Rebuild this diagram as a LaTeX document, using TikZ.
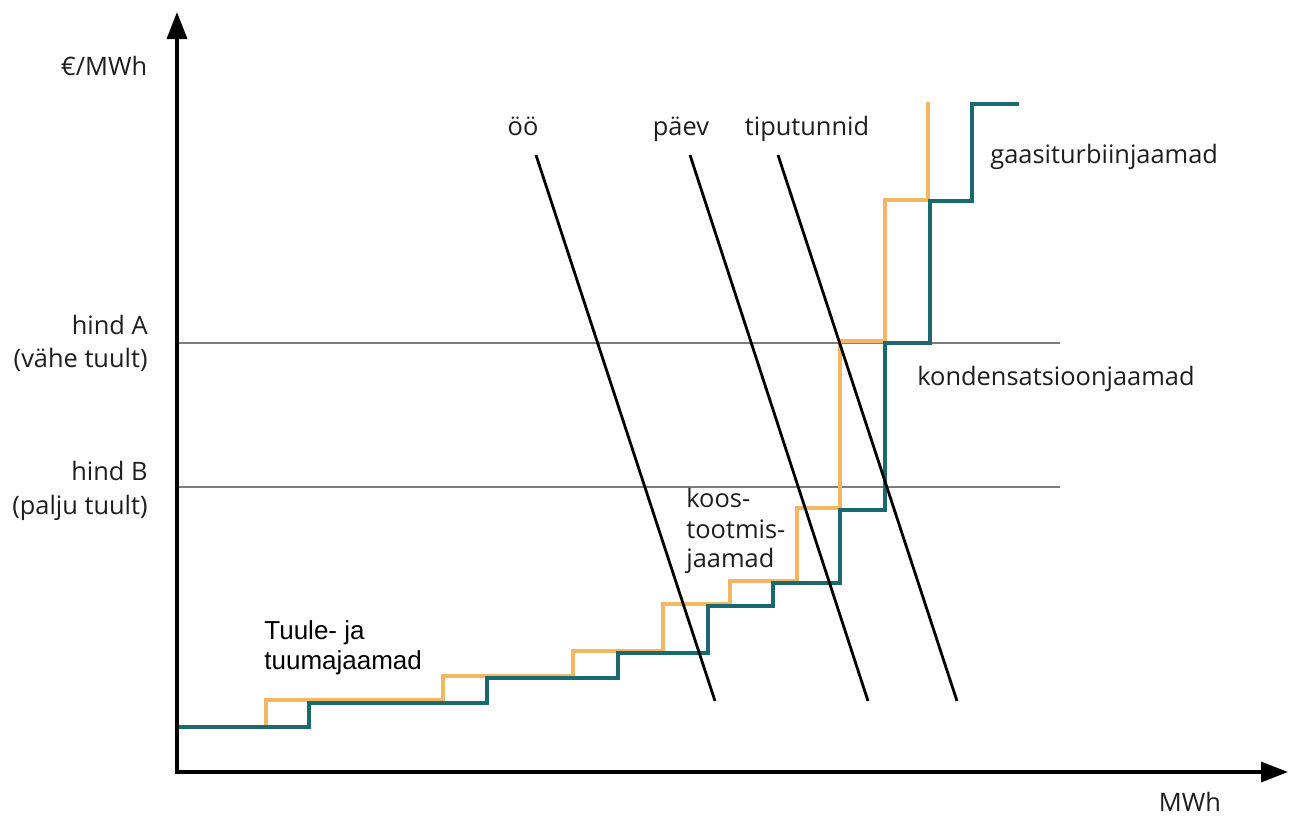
\documentclass[tikz,border=0pt]{standalone}
\usepackage{fontspec}
\setmainfont{Open Sans}
\newfontfamily\arialf{Liberation Sans}
\usetikzlibrary{arrows.meta}
\definecolor{stepor}{RGB}{243,183,98}
\definecolor{stepteal}{RGB}{27,104,112}
\definecolor{txtgray}{RGB}{30,30,30}
\begin{document}
\begin{tikzpicture}[x=0.5pt,y=-0.5pt,
  axisline/.style={line width=1.7pt,-{Triangle[length=13.5pt,width=10pt]}},
  priceline/.style={line width=1.1pt,draw={rgb,255:red,125;green,125;blue,125}},
  demand/.style={line width=1.4pt,black},
  orstep/.style={line width=1.9pt,stepor},
  tealstep/.style={line width=1.9pt,stepteal},
  lbl/.style={inner sep=0pt,text=txtgray,font=\fontsize{12.7}{15}\selectfont},
  albl/.style={inner sep=0pt,text=black,font=\arialf\fontsize{13}{15}\selectfont}]
\useasboundingbox (0,0) rectangle (1296,825);
\fill[white] (0,0) rectangle (1296,825);
% price lines
\coordinate (pa1) at (177,343); \coordinate (pa2) at (1060,343);
\coordinate (pb1) at (177,487); \coordinate (pb2) at (1060,487);
\draw[priceline] (pa1) -- (pa2);
\draw[priceline] (pb1) -- (pb2);
% supply steps
\draw[orstep] (266,727) -- (266,700) -- (443,700) -- (443,676) -- (573,676) -- (573,651) -- (663,651) -- (663,604) -- (730,604) -- (730,581) -- (797,581) -- (797,508) -- (840,508) -- (840,341) -- (885,341) -- (885,200) -- (928,200) -- (928,102);
\draw[tealstep] (177,727) -- (309,727) -- (309,703) -- (487,703) -- (487,678) -- (618,678) -- (618,653) -- (708,653) -- (708,606) -- (773,606) -- (773,583) -- (840,583) -- (840,510) -- (885,510) -- (885,343) -- (930,343) -- (930,201) -- (972,201) -- (972,104) -- (1019,104);
% demand lines
\coordinate (d1a) at (536,155); \coordinate (d1b) at (715,701);
\coordinate (d2a) at (690,155); \coordinate (d2b) at (868,701);
\coordinate (d3a) at (778,155); \coordinate (d3b) at (957,701);
\draw[demand] (d1a) -- (d1b);
\draw[demand] (d2a) -- (d2b);
\draw[demand] (d3a) -- (d3b);
% axes
\coordinate (O) at (177,772);
\coordinate (ytip) at (177,12);
\coordinate (xtip) at (1288,772);
\draw[axisline] (O) -- (ytip);
\draw[axisline] ([xshift=-0.85pt]O) -- (xtip);
% labels
\node[lbl,anchor=mid] (yl) at (104,70) {€/MWh};
\node[lbl,anchor=mid] (xl) at (1190,806) {MWh};
\node[lbl,anchor=mid east] (hA) at (148,329) {hind A};
\node[lbl,anchor=mid east] (hA2) at (148,362) {(vähe tuult)};
\node[lbl,anchor=mid east] (hB) at (148,475) {hind B};
\node[lbl,anchor=mid east] (hB2) at (148,509) {(palju tuult)};
\node[lbl,anchor=mid] (oo) at (523,130) {öö};
\node[lbl,anchor=mid] (pv) at (681,130) {päev};
\node[lbl,anchor=mid] (tp) at (807,130) {tiputunnid};
\node[lbl,anchor=mid west] (gt) at (990,158) {gaasiturbiinjaamad};
\node[lbl,anchor=mid west] (kd) at (917,380) {kondensatsioonjaamad};
\node[lbl,anchor=mid west] (k1) at (686,502) {koos-};
\node[lbl,anchor=mid west] (k2) at (686,533) {tootmis-};
\node[lbl,anchor=mid west] (k3) at (686,562) {jaamad};
\node[albl,anchor=mid west] (t1) at (264,634) {Tuule- ja};
\node[albl,anchor=mid west] (t2) at (264,664) {tuumajaamad};
\end{tikzpicture}
\end{document}
